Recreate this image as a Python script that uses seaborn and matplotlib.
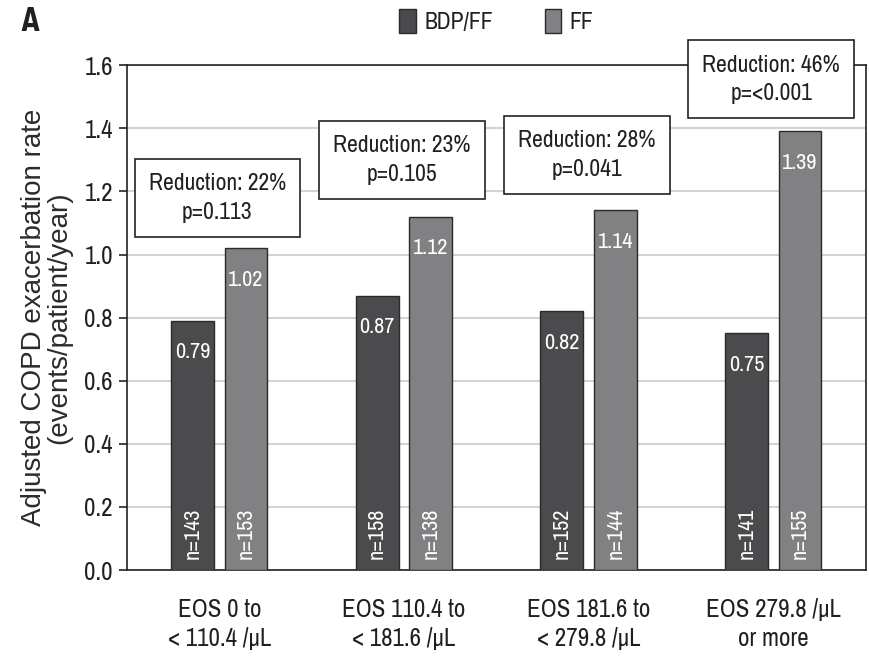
import matplotlib
matplotlib.use("Agg")
import matplotlib.pyplot as plt
import seaborn as sns
import pandas as pd
from matplotlib.patches import Patch

categories = ["EOS 0 to\n< 110.4 /\u03bcL", "EOS 110.4 to\n< 181.6 /\u03bcL",
              "EOS 181.6 to\n< 279.8 /\u03bcL", "EOS 279.8 /\u03bcL\nor more"]
treatments = ["BDP/FF", "FF"]
bdp_ff_rates = [0.79, 0.87, 0.82, 0.75]
ff_rates = [1.02, 1.12, 1.14, 1.39]
bdp_ff_n = [143, 158, 152, 141]
ff_n = [153, 138, 144, 155]
reductions = ["Reduction: 22%\np=0.113", "Reduction: 23%\np=0.105",
              "Reduction: 28%\np=0.041", "Reduction: 46%\np=<0.001"]
box_y = [1.18, 1.30, 1.315, 1.555]
yticks = [0.0, 0.2, 0.4, 0.6, 0.8, 1.0, 1.2, 1.4, 1.6]

sns.set_theme(style="white")
plt.rcParams['font.family'] = ['Archivo Narrow', 'Liberation Sans', 'DejaVu Sans']
BOLD = ['Barlow Semi Condensed', 'Liberation Sans', 'DejaVu Sans']
WIDE = ['Liberation Sans', 'DejaVu Sans']
TXT = "#231f20"

df = pd.DataFrame({
    "category": categories * 2,
    "treatment": [treatments[0]] * 4 + [treatments[1]] * 4,
    "rate": bdp_ff_rates + ff_rates,
    "n": bdp_ff_n + ff_n,
})

colors = {"BDP/FF": "#4b4b4d", "FF": "#808184"}

fig = plt.figure(figsize=(8.69, 6.59), dpi=100)
ax = fig.add_axes([0.146, 0.135, 0.85, 0.766])

sns.barplot(data=df, x="category", y="rate", hue="treatment", palette=colors,
            width=0.58, gap=0.2, edgecolor="#2a2a2a", linewidth=1.0,
            legend=False, ax=ax, zorder=3)

ax.set_ylim(0, 1.6)
ax.set_xlim(-0.5, 3.5)
ax.set_yticks(yticks)
ax.set_yticklabels([f"{v:.1f}" for v in yticks], fontsize=18, color=TXT)
ax.yaxis.grid(True, color="#d3d3d3", linewidth=1.5, zorder=0)
ax.set_axisbelow(True)
for s in ax.spines.values():
    s.set_color("#222222")
    s.set_linewidth(1.2)
ax.tick_params(axis="y", which="both", left=True, length=6, width=1.2, color="#222222", pad=4)
ax.tick_params(axis="x", bottom=False, labelsize=18, pad=14, labelcolor=TXT)
for lab in ax.get_xticklabels():
    lab.set_linespacing(1.35)
ax.set_xlabel("")
ax.set_ylabel("Adjusted COPD exacerbation rate\n(events/patient/year)",
              fontsize=20, fontweight="medium", family=WIDE, color="#2b2b2b",
              labelpad=9, linespacing=0.95)

# value labels and n labels from bar patches
bars = [p for p in ax.patches if p.get_height() > 0]
bars = sorted(bars, key=lambda p: p.get_x())
vals = []
ns = []
for i in range(4):
    vals += [bdp_ff_rates[i], ff_rates[i]]
    ns += [bdp_ff_n[i], ff_n[i]]
for p, v, n in zip(bars, vals, ns):
    cx = p.get_x() + p.get_width() / 2
    ax.text(cx, p.get_height() - 0.1, f"{v:.2f}", ha="center", va="center",
            color="white", fontsize=16, zorder=5)
    ax.text(cx, 0.035, f"n={n}", ha="center", va="bottom", rotation=90,
            color="white", fontsize=16, zorder=5)

# reduction boxes
for i, (txt, y) in enumerate(zip(reductions, box_y)):
    ax.text(i - 0.01, y, txt, ha="center", va="center", fontsize=17, color=TXT,
            linespacing=1.45, zorder=10, clip_on=False,
            bbox=dict(boxstyle="square,pad=0.6", fc="white", ec="#222222", lw=1.2))

handles = [Patch(facecolor=colors[t], edgecolor="#2a2a2a", label=t) for t in treatments]
fig.legend(handles=handles, loc="center", bbox_to_anchor=(0.571, 0.968), ncol=2,
           frameon=False, fontsize=17, handlelength=0.7, handleheight=1.15,
           columnspacing=2.2, handletextpad=0.35, labelcolor=TXT)

fig.text(0.024, 0.966, "A", fontsize=24, fontweight="bold", family=BOLD, color=TXT,
         ha="left", va="center")

fig.savefig("out.png", dpi=100)
